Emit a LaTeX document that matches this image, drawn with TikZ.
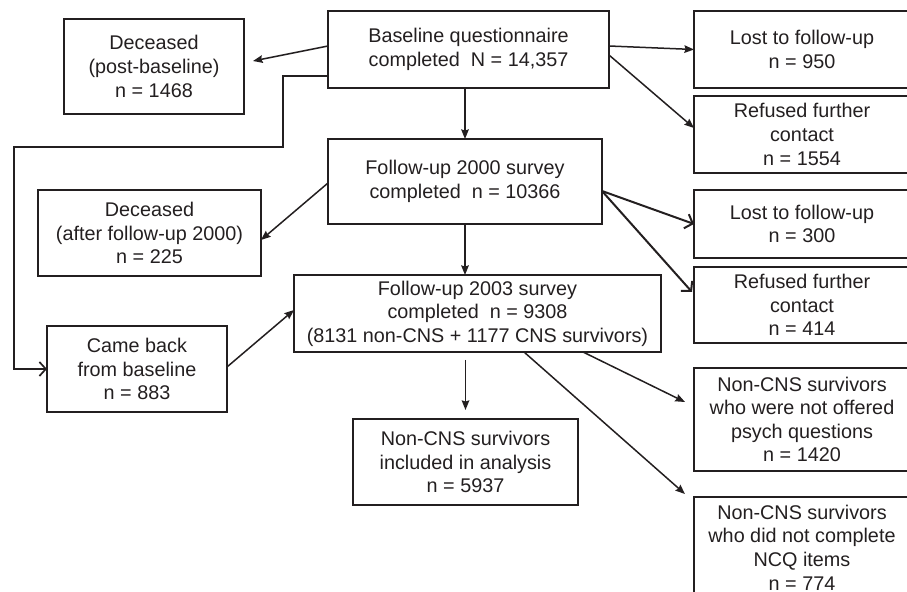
\documentclass[tikz,border=0pt]{standalone}
\usepackage{fontspec}
\setmainfont{Liberation Sans}
\usepackage{xcolor}
\usetikzlibrary{arrows.meta,positioning}
\definecolor{ink}{HTML}{231F20}
\tikzset{
  stagebox/.style={
    rectangle, draw=ink, text=ink, line width=0.85pt,
    inner sep=0pt, outer sep=0pt, align=center,
    font=\fontsize{9.9pt}{11.8pt}\selectfont
  },
  sidebox/.style={
    stagebox, minimum width=108pt
  },
  flow/.style={-{Stealth[length=4.8pt,width=3.8pt,inset=0.6pt]}, line width=0.75pt, draw=ink},
  heavyflow/.style={-{Straight Barb[length=3.4pt,width=7.5pt]}, line width=1pt, draw=ink},
  elbow/.style={-{Straight Barb[length=3.2pt,width=7pt]}, line width=0.85pt, draw=ink},
}

\begin{document}
\begin{tikzpicture}[x=0.5pt, y=-0.5pt]
  \useasboundingbox (0,0) rectangle (907,592);

  % Main column
  \node[stagebox, minimum width=140.5pt, minimum height=38.5pt] (base) at (468.5,49.5)
        {Baseline questionnaire\\completed~~N = 14,357};
  \node[stagebox, minimum width=137pt, minimum height=42.5pt,
        below=25.5pt of base, xshift=-1.75pt] (fu00)
        {Follow-up 2000 survey\\completed~~n = 10366};
  \node[stagebox, minimum width=183.5pt, minimum height=38.5pt,
        below=25.5pt of fu00, xshift=6.25pt] (fu03)
        {Follow-up 2003 survey\\completed~~n = 9308\\(8131 non-CNS + 1177 CNS survivors)};
  \node[stagebox, minimum width=112.5pt, minimum height=43pt,
        below=33.5pt of fu03, xshift=-6pt] (incl)
        {Non-CNS survivors\\included in analysis\\n = 5937};

  % Left side
  \node[stagebox, minimum width=90pt, minimum height=47.5pt,
        left=42pt of base.north west, anchor=north east, yshift=-4pt] (dec1)
        {Deceased\\(post-baseline)\\n = 1468};
  \node[stagebox, minimum width=111.5pt, minimum height=43pt,
        left=33.5pt of fu00.west, anchor=north east, yshift=-4.25pt] (dec2)
        {Deceased\\(after follow-up 2000)\\n = 225};
  \node[stagebox, minimum width=90pt, minimum height=43pt,
        left=33.5pt of fu03, yshift=-27.75pt] (back)
        {Came back\\from baseline\\n = 883};

  % Right side
  \node[sidebox, minimum height=38.5pt,
        right=42.5pt of base.north east, anchor=north west] (lost1)
        {Lost to follow-up\\n = 950};
  \node[sidebox, minimum height=38.5pt, below=4pt of lost1] (ref1)
        {Refused further\\contact\\n = 1554};
  \node[sidebox, minimum height=34pt, below=8.5pt of ref1] (lost2)
        {Lost to follow-up\\n = 300};
  \node[sidebox, minimum height=38pt, below=4.5pt of lost2] (ref2)
        {Refused further\\contact\\n = 414};
  \node[sidebox, minimum height=51.5pt, below=12.5pt of ref2] (psych)
        {Non-CNS survivors\\who were not offered\\psych questions\\n = 1420};
  \node[sidebox, minimum height=50.5pt, below=13pt of psych] (ncq)
        {Non-CNS survivors\\who did not complete\\NCQ items\\n = 774};

  % Baseline arrows
  \draw[flow] ([yshift=1.75pt]base.west) -- ([xshift=4.5pt,yshift=2.75pt]dec1.east);
  \draw[flow] ([yshift=1.75pt]base.east) -- (lost1.west);
  \draw[flow] ([yshift=-2.75pt]base.east) -- ([yshift=3.25pt]ref1.west);
  \draw[flow] (fu00.north |- base.south) -- (fu00.north);
  \draw[elbow] ([yshift=-13.25pt]base.west) -- ++(-22.5pt,0) -- ++(0,-35.5pt)
        -- ++(-134.5pt,0) |- (back.west);

  % Follow-up 2000 arrows
  \draw[flow] ([yshift=-0.75pt]fu00.west) -- ([yshift=-3.5pt]dec2.east);
  \draw[flow] (fu00.south) -- (fu00.south |- fu03.north);
  \draw[heavyflow] ([yshift=-4.75pt]fu00.east) -- (lost2.west);
  \draw[heavyflow] ([yshift=-4.75pt]fu00.east) -- ([xshift=-1pt,yshift=6.5pt]ref2.west);
  \draw[flow] ([yshift=1pt]back.east) -- ([yshift=1.75pt]fu03.west);

  % Follow-up 2003 arrows
  \draw[flow] ([yshift=-4pt]incl.north |- fu03.south) -- ([yshift=4.5pt]incl.north);
  \draw[flow] ([xshift=52.75pt]fu03.south) -- ([xshift=-4.5pt,yshift=8.75pt]psych.west);
  \draw[flow] ([xshift=23.25pt]fu03.south) -- ([xshift=-4.5pt,yshift=1.5pt]ncq.north west);

\end{tikzpicture}
\end{document}
